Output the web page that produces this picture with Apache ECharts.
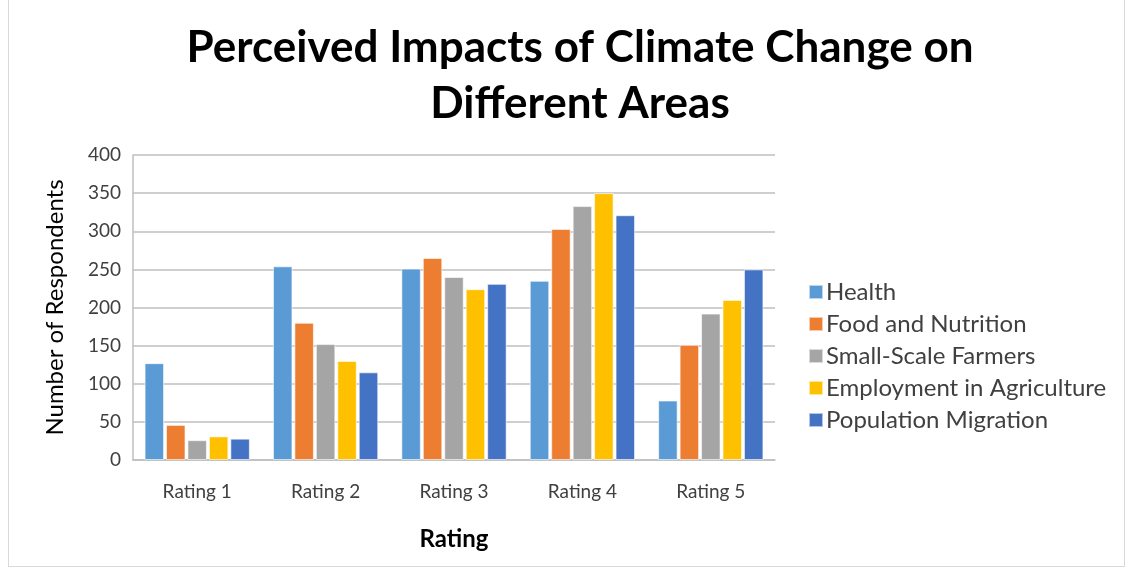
<!DOCTYPE html>
<html><head><meta charset="utf-8">
<script src="https://cdn.jsdelivr.net/npm/echarts@6/dist/echarts.min.js"></script>
<style>html,body{margin:0;padding:0;background:#fff}#c{width:1133px;height:571px}
#frame{position:absolute;left:8px;top:-1px;width:1117px;height:568px;border:1px solid #d9d9d9;box-sizing:border-box;pointer-events:none}</style>
</head><body><div id="c"></div><div id="frame"></div>
<script>
const categories = ['Rating 1','Rating 2','Rating 3','Rating 4','Rating 5'];
const seriesNames = ['Health','Food and Nutrition','Small-Scale Farmers','Employment in Agriculture','Population Migration'];
const health = [127, 254, 251, 235, 78];
const food = [46, 180, 265, 303, 151];
const farmers = [26, 152, 240, 333, 192];
const employment = [31, 130, 224, 350, 210];
const migration = [28, 115, 231, 321, 250];
const colors = ['#5b9bd5','#ed7d31','#a5a5a5','#ffc000','#4472c4'];
const values = [health, food, farmers, employment, migration];
const font = 'Lato, "Open Sans", sans-serif';
const chart = echarts.init(document.getElementById('c'));
chart.setOption({
  animation:false,
  title:{text:'Perceived Impacts of Climate Change on\nDifferent Areas', left:575, top:15, textAlign:'center',
    textStyle:{fontFamily:font, fontSize:44, fontWeight:'bold', color:'#000', lineHeight:56}},
  legend:{orient:'vertical', left:803, top:275, itemWidth:14, itemHeight:14, itemGap:8, icon:'rect',
    textStyle:{fontFamily:font, fontSize:24, color:'#404040', padding:[0,0,0,-2]}, data:seriesNames},
  grid:{left:133, top:155, right:358, bottom:111},
  xAxis:{type:'category', data:categories, name:'Rating', nameLocation:'middle', nameGap:67,
    nameTextStyle:{fontFamily:font, fontSize:24, fontWeight:'bold', color:'#000'},
    axisLine:{lineStyle:{color:'#bfbfbf', width:1.5}}, axisTick:{show:false},
    axisLabel:{fontFamily:font, fontSize:19, color:'#404040', margin:22}},
  yAxis:{type:'value', min:0, max:400, interval:50, name:'Number of Respondents', nameLocation:'middle', nameGap:66,
    nameTextStyle:{fontFamily:font, fontSize:24, color:'#000'},
    axisLine:{show:true, lineStyle:{color:'#bfbfbf', width:1.5}}, axisTick:{show:false},
    splitLine:{lineStyle:{color:'#bfbfbf', width:1.5}},
    axisLabel:{fontFamily:font, fontSize:19, color:'#404040', margin:12}},
  series: seriesNames.map((n,i)=>({name:n, type:'bar', data:values[i], barGap:'10%', barCategoryGap:'18%',
    itemStyle:{color:colors[i], borderColor:'rgba(255,255,255,0.6)', borderWidth:1}}))
});
</script></body></html>
